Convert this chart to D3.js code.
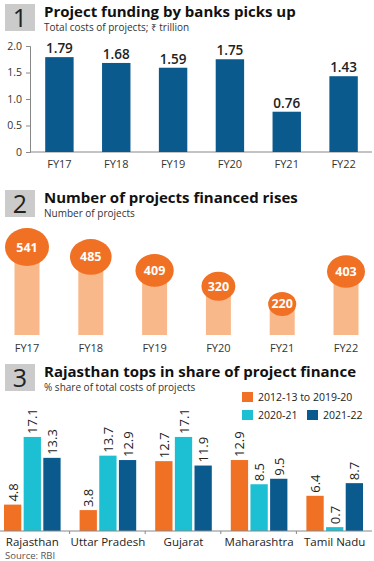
<!DOCTYPE html>
<html>
<head>
<meta charset="utf-8">
<script src="https://cdn.jsdelivr.net/npm/d3@7"></script>
<style>
  body { margin: 0; background: #fff; }
  text { font-family: "Open Sans", "Noto Sans", sans-serif; }
</style>
</head>
<body>
<div id="chart"></div>
<script>
// Panel 1: total cost of projects, ₹ trillion
var years = ["FY17", "FY18", "FY19", "FY20", "FY21", "FY22"],
    costs = [1.79, 1.68, 1.59, 1.75, 0.76, 1.43],
    costTicks = [0, 0.5, 1.0, 1.5, 2.0];

// Panel 2: number of projects
var projects = [541, 485, 409, 320, 220, 403];

// Panel 3: state share of total costs (%)
var states = ["Rajasthan", "Uttar Pradesh", "Gujarat", "Maharashtra", "Tamil Nadu"],
    periods = ["2012-13 to 2019-20", "2020-21", "2021-22"],
    sharePre = [4.8, 3.8, 12.7, 12.9, 6.4],
    share2021 = [17.1, 13.7, 17.1, 8.5, 0.7],
    share2122 = [13.3, 12.9, 11.9, 9.5, 8.7];

var w = 374, h = 561,
    navy = "#0b5a8e", orange = "#f07024", peach = "#f9b88a", cyan = "#1dbfd2";

var svg = d3.select("#chart").append("svg")
    .attr("width", w).attr("height", h);

// numbered header block
function header(y, num, title, sub) {
    svg.append("rect").attr("x", 5).attr("y", y).attr("width", 30).attr("height", 27)
        .attr("fill", "#cbcbcb");
    svg.append("text").attr("x", 20).attr("y", y + 23).attr("text-anchor", "middle")
        .attr("font-size", 25).attr("fill", "#222").text(num);
    svg.append("text").attr("x", 44).attr("y", y + 13).attr("font-size", 15)
        .attr("font-weight", "bold").attr("fill", "#111").text(title);
    svg.append("text").attr("x", 44).attr("y", y + 27).attr("font-size", 10)
        .attr("fill", "#333").text(sub);
}

header(4, "1", "Project funding by banks picks up", "Total costs of projects; \u20b9 trillion");
header(190, "2", "Number of projects financed rises", "Number of projects");
header(364, "3", "Rajasthan tops in share of project finance", "% share of total costs of projects");

// ---- Panel 1 ----
var x1 = d3.scaleBand().domain(years).range([31, 372]).paddingInner(0.5).paddingOuter(0.25);
var y1 = d3.scaleLinear().domain([0, 2]).range([152, 46]);

var ax1 = svg.append("g").attr("transform", "translate(30,0)")
    .call(d3.axisLeft(y1).tickValues(costTicks).tickSize(4)
        .tickFormat(function (d) { return d === 0 ? "0" : d3.format(".1f")(d); }));
ax1.select(".domain").attr("stroke", "#888");
ax1.selectAll(".tick line").attr("stroke", "#888");
ax1.selectAll("text").attr("font-size", 10.5).attr("fill", "#333").attr("x", -8)
    .style("font-family", "'Open Sans', sans-serif");

svg.append("line").attr("x1", 30).attr("x2", 372).attr("y1", y1(0)).attr("y2", y1(0))
    .attr("stroke", "#888");

svg.selectAll(".bar1").data(costs).enter().append("rect")
    .attr("x", function (d, i) { return x1(years[i]); })
    .attr("y", function (d) { return y1(d); })
    .attr("width", x1.bandwidth())
    .attr("height", function (d) { return y1(0) - y1(d); })
    .attr("fill", navy);

svg.selectAll(".lab1").data(costs).enter().append("text")
    .attr("x", function (d, i) { return x1(years[i]) + x1.bandwidth() / 2; })
    .attr("y", function (d) { return y1(d) - 4; })
    .attr("text-anchor", "middle").attr("font-size", 13.5).attr("font-weight", 600)
    .attr("fill", "#222").text(function (d) { return d3.format(".2f")(d); });

svg.selectAll(".cat1").data(years).enter().append("text")
    .attr("x", function (d) { return x1(d) + x1.bandwidth() / 2; })
    .attr("y", 168).attr("text-anchor", "middle").attr("font-size", 11)
    .attr("fill", "#333").text(function (d) { return d; });

// ---- Panel 2 ----
var x2 = d3.scalePoint().domain(years).range([27, 346]);
var y2 = d3.scaleLinear().domain([45, 541]).range([335, 247]);
var r2 = d3.scaleSqrt().domain([0, 541]).range([0, 22]);

svg.selectAll(".stem").data(projects).enter().append("rect")
    .attr("x", function (d, i) { return x2(years[i]) - 12.5; })
    .attr("y", function (d) { return y2(d); })
    .attr("width", 25)
    .attr("height", function (d) { return 335 - y2(d); })
    .attr("fill", peach);

svg.selectAll(".bub").data(projects).enter().append("ellipse")
    .attr("cx", function (d, i) { return x2(years[i]); })
    .attr("cy", function (d) { return y2(d); })
    .attr("rx", function (d) { return r2(d); })
    .attr("ry", function (d) { return r2(d) * 0.86; })
    .attr("fill", orange);

svg.selectAll(".lab2").data(projects).enter().append("text")
    .attr("x", function (d, i) { return x2(years[i]); })
    .attr("y", function (d) { return y2(d) + 4.5; })
    .attr("text-anchor", "middle").attr("font-size", 12.5).attr("font-weight", "bold")
    .attr("fill", "#fff").text(function (d) { return d; });

svg.selectAll(".cat2").data(years).enter().append("text")
    .attr("x", function (d) { return x2(d); })
    .attr("y", 352).attr("text-anchor", "middle").attr("font-size", 11)
    .attr("fill", "#333").text(function (d) { return d; });

// ---- Panel 3 ----
var series = [sharePre, share2021, share2122],
    colors3 = [orange, cyan, navy];
var x3 = d3.scaleBand().domain(states).range([-6, 372]).paddingInner(0).paddingOuter(0);
var xs = d3.scaleBand().domain(periods).range([10, x3.bandwidth() - 9]).paddingInner(0.12);
var y3 = d3.scaleLinear().domain([0, 20]).range([531, 421]);

var groups = svg.selectAll(".grp").data(states).enter().append("g")
    .attr("transform", function (d) { return "translate(" + x3(d) + ",0)"; });

groups.each(function (s, i) {
    var g = d3.select(this);
    periods.forEach(function (p, j) {
        var v = series[j][i];
        g.append("rect").attr("x", xs(p)).attr("y", y3(v))
            .attr("width", xs.bandwidth()).attr("height", y3(0) - y3(v))
            .attr("fill", colors3[j]);
        g.append("text")
            .attr("transform", "translate(" + (xs(p) + xs.bandwidth() / 2 + 5) + "," + (y3(v) - 3) + ") rotate(-90)")
            .attr("font-size", 13).attr("fill", "#222").text(d3.format(".1f")(v));
    });
});

svg.append("line").attr("x1", 0).attr("x2", 372).attr("y1", y3(0)).attr("y2", y3(0))
    .attr("stroke", "#888");
svg.selectAll(".sep").data(states.slice(1)).enter().append("line")
    .attr("x1", function (d) { return x3(d); }).attr("x2", function (d) { return x3(d); })
    .attr("y1", y3(0)).attr("y2", y3(0) + 3).attr("stroke", "#888");

svg.selectAll(".cat3").data(states).enter().append("text")
    .attr("x", function (d) { return x3(d) + x3.bandwidth() / 2 + 0.5; })
    .attr("y", 546).attr("text-anchor", "middle").attr("font-size", 11.5)
    .attr("fill", "#222").text(function (d) { return d; });

svg.append("text").attr("x", 5).attr("y", 559).attr("font-size", 9.5)
    .attr("fill", "#555").text("Source: RBI");

// legend
var legPos = [[242, 392], [242, 410], [307, 410]];
periods.forEach(function (p, j) {
    svg.append("rect").attr("x", legPos[j][0]).attr("y", legPos[j][1])
        .attr("width", 11).attr("height", 10).attr("fill", colors3[j]);
    svg.append("text").attr("x", legPos[j][0] + 16).attr("y", legPos[j][1] + 9)
        .attr("font-size", 10.5).attr("fill", "#222").text(p);
});
</script>
</body>
</html>
